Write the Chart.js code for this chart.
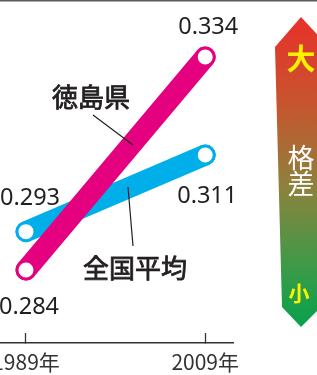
<!DOCTYPE html>
<html>
<head>
<meta charset="utf-8">
<script src="https://cdn.jsdelivr.net/npm/chart.js@4.4.0/dist/chart.umd.min.js"></script>
<style>
  html, body { margin: 0; padding: 0; background: #fff; }
  #wrap { position: relative; width: 317px; height: 375px; overflow: hidden; }
</style>
</head>
<body>
<div id="wrap"><canvas id="giniChart"></canvas></div>
<script>
const years = [1989, 2009];
const tokushima = [0.284, 0.334];
const national = [0.293, 0.311];
const seriesNames = ['徳島県', '全国平均'];
const tickSuffix = '年';

const PINK = '#e5007f';
const BLUE = '#00aeea';
const INK = '#231f20';

// value label offsets from each point (px): [dx, dy] per point
const valueOffsets = [
  [[3, 37], [3, -30]],   // tokushima: below first, above last
  [[4, -33], [2, 41]]    // national: above first, below last
];

const overlay = {
  id: 'overlay',
  afterDatasetsDraw(chart) {
    const ctx = chart.ctx;
    ctx.save();
    // value labels
    ctx.font = '23.5px "Noto Sans", sans-serif';
    ctx.fillStyle = INK;
    ctx.textAlign = 'center';
    ctx.textBaseline = 'middle';
    [tokushima, national].forEach((vals, i) => {
      const meta = chart.getDatasetMeta(i);
      meta.data.forEach((pt, j) => {
        const off = valueOffsets[i][j];
        ctx.fillText(vals[j].toFixed(3), pt.x + off[0], pt.y + off[1]);
      });
    });

    // series names with leader lines (slightly heavier than regular)
    ctx.font = '26px "Noto Sans CJK JP", sans-serif';
    ctx.strokeStyle = INK;
    ctx.lineWidth = 0.8;
    [[seriesNames[0], 91, 97], [seriesNames[1], 135, 268]].forEach(([t, x, y]) => {
      ctx.fillText(t, x, y);
      ctx.strokeText(t, x, y);
    });
    ctx.lineWidth = 1.2;
    ctx.beginPath();
    ctx.moveTo(93, 115); ctx.lineTo(133, 145);
    ctx.moveTo(128, 187); ctx.lineTo(133, 246);
    ctx.stroke();
    ctx.restore();
  },
  afterDraw(chart) {
    const ctx = chart.ctx;
    ctx.save();
    // top rule
    ctx.fillStyle = '#5a5a5a';
    ctx.fillRect(0, 0, chart.width, 1.5);

    // gap scale arrow
    const cx = 301;
    const g = ctx.createLinearGradient(0, 17, 0, 327);
    g.addColorStop(0, '#e8302a');
    g.addColorStop(0.3, '#c4582f');
    g.addColorStop(0.55, '#8c823c');
    g.addColorStop(0.8, '#3f9a48');
    g.addColorStop(1, '#07a14c');
    ctx.fillStyle = g;
    ctx.beginPath();
    ctx.moveTo(cx, 17);
    ctx.lineTo(cx + 28, 47);
    ctx.lineTo(cx + 20, 307);
    ctx.lineTo(cx, 327);
    ctx.lineTo(cx - 19, 307);
    ctx.lineTo(cx - 26, 47);
    ctx.closePath();
    ctx.fill();

    ctx.textAlign = 'center';
    ctx.textBaseline = 'middle';
    ctx.fillStyle = '#fff200';
    ctx.font = 'bold 29px "Noto Sans CJK JP", sans-serif';
    ctx.fillText('大', cx, 59);
    ctx.font = 'bold 21px "Noto Sans CJK JP", sans-serif';
    ctx.fillText('小', cx - 2, 293);
    ctx.fillStyle = '#ffffff';
    ctx.font = '27px "Noto Sans CJK JP", sans-serif';
    ctx.fillText('格', cx, 158);
    ctx.fillText('差', cx, 184);
    ctx.restore();
  }
};

const ctx = document.getElementById('giniChart').getContext('2d');
new Chart(ctx, {
  type: 'line',
  data: {
    datasets: [
      {
        label: seriesNames[0],
        data: years.map((y, i) => ({ x: y, y: tokushima[i] })),
        borderColor: PINK,
        borderWidth: 21,
        borderCapStyle: 'round',
        pointRadius: 9,
        pointBorderWidth: 3,
        pointBackgroundColor: '#fff',
        pointBorderColor: PINK,
        clip: false
      },
      {
        label: seriesNames[1],
        data: years.map((y, i) => ({ x: y, y: national[i] })),
        borderColor: BLUE,
        borderWidth: 21,
        borderCapStyle: 'round',
        pointRadius: 9,
        pointBorderWidth: 3,
        pointBackgroundColor: '#fff',
        pointBorderColor: BLUE,
        clip: false
      }
    ]
  },
  options: {
    responsive: true,
    maintainAspectRatio: false,
    animation: false,
    layout: { autoPadding: false, padding: { left: 0, right: 84, top: 0, bottom: 0 } },
    plugins: {
      legend: { display: false },
      tooltip: { enabled: false }
    },
    scales: {
      x: {
        type: 'linear',
        min: 1986.1,
        max: 2012.1,
        afterBuildTicks: s => { s.ticks = years.map(v => ({ value: v })); },
        afterFit: s => { s.height = 32; s.paddingLeft = 0; s.paddingRight = 0; },
        grid: {
          drawOnChartArea: false,
          tickLength: -10,
          tickColor: '#333',
          tickWidth: 1.3
        },
        border: { color: '#333', width: 1.5 },
        ticks: {
          padding: 16.5,
          maxRotation: 0,
          minRotation: 0,
          color: '#333',
          font: { family: '"Noto Sans CJK JP", sans-serif', size: 21 },
          callback: v => v + tickSuffix
        }
      },
      y: {
        display: false,
        min: 0.26686,
        max: 0.34738
      }
    }
  },
  plugins: [overlay]
});
</script>
</body>
</html>
